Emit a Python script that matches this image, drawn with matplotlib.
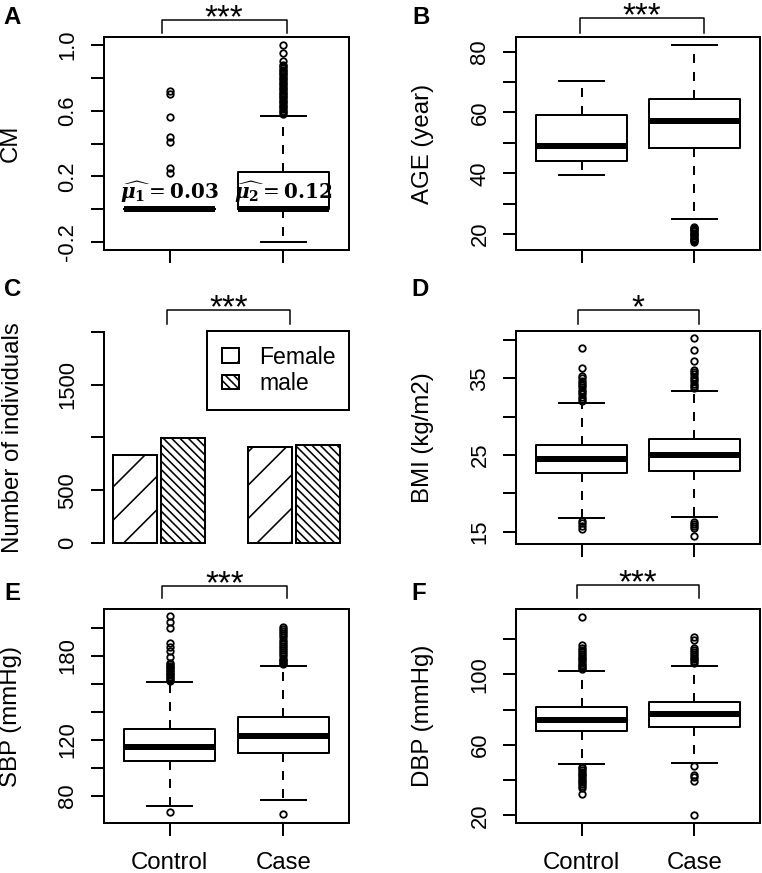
import matplotlib
matplotlib.use("Agg")
import matplotlib.pyplot as plt
from matplotlib.patches import Patch
from matplotlib.transforms import Affine2D, blended_transform_factory

W, H, DPI = 762, 873, 200
PT = 72 / DPI  # points per output pixel

plt.rcParams["font.family"] = ["Liberation Sans", "DejaVu Sans"]
plt.rcParams["mathtext.fontset"] = "dejavuserif"
plt.rcParams["hatch.linewidth"] = 1.6 * PT
plt.rcParams["lines.scale_dashes"] = False

GROUPS = ["Control", "Case"]

# box stats per group: (whisker low, q1, median, q3, whisker high)
CM_STATS = [(0.0, 0.0, 0.0, 0.0, 0.0), (-0.2, 0.0, 0.0, 0.224, 0.567)]
CM_FLIERS = [
    [0.72, 0.70, 0.56, 0.44, 0.41, 0.25, 0.22],
    [1.00, 0.95, 0.90, 0.88, 0.87, 0.86, 0.85, 0.84, 0.83, 0.82, 0.81, 0.80,
     0.79, 0.78, 0.77, 0.76, 0.75, 0.74, 0.73, 0.72, 0.71, 0.70, 0.69, 0.68,
     0.67, 0.66, 0.65, 0.64, 0.63, 0.62, 0.61, 0.60, 0.59, 0.58],
]
CM_MEANS = ["0.03", "0.12"]

AGE_STATS = [(39.3, 44.0, 49.1, 59.1, 70.3), (25.0, 48.2, 57.1, 64.3, 82.2)]
AGE_FLIERS = [
    [],
    [22.5, 22.1, 21.7, 21.3, 20.9, 20.5, 20.1, 19.7, 19.3, 18.9, 18.5, 18.1,
     17.7, 17.3],
]

SEX_FEMALE = [836, 912]
SEX_MALE = [997, 928]
SEX_LABELS = ["Female", "male"]

BMI_STATS = [(16.8, 22.6, 24.45, 26.3, 31.8), (16.9, 22.95, 25.05, 27.05, 33.4)]
BMI_FLIERS = [
    [39.0, 36.4, 35.3, 35.0, 34.7, 34.4, 34.1, 33.8, 33.5, 33.2, 32.9, 32.6,
     32.3, 32.1, 16.4, 16.1, 15.7, 15.4],
    [40.3, 38.7, 37.2, 36.1, 35.8, 35.5, 35.2, 34.9, 34.6, 34.3, 34.0, 33.7,
     16.3, 16.0, 15.7, 15.5, 14.5],
]

SBP_STATS = [(72.8, 104.9, 114.6, 127.5, 161.0), (77.0, 110.4, 122.9, 136.2, 172.8)]
SBP_FLIERS = [
    [208.2, 204.1, 200.0, 189.2, 186.0, 183.5, 178.8, 175.0, 174.0, 173.0,
     172.0, 171.0, 170.0, 169.0, 168.0, 167.0, 166.0, 165.0, 164.0, 163.0,
     162.3, 68.3],
    [200.6, 199.0, 197.5, 196.0, 194.5, 193.0, 191.5, 190.0, 188.5, 187.0,
     185.5, 184.0, 182.5, 181.0, 179.5, 178.0, 177.0, 176.0, 175.0, 174.2,
     66.9],
]

DBP_STATS = [(49.2, 68.1, 74.2, 81.7, 102.1), (49.9, 70.3, 77.5, 84.3, 104.9)]
DBP_FLIERS = [
    [132.6, 116.6, 114.7, 113.5, 112.5, 111.5, 110.5, 109.5, 108.5, 107.5,
     106.5, 105.5, 104.5, 103.5, 102.7, 47.7, 46.7, 45.7, 44.7, 43.7, 42.7,
     41.7, 40.7, 39.7, 38.7, 37.7, 36.5, 35.5, 32.2],
    [121.0, 119.5, 114.7, 113.5, 112.5, 111.5, 110.5, 109.5, 108.5, 107.3,
     106.6, 48.0, 42.9, 41.5, 39.5, 20.4],
]

# font sizes in output pixels
F_TICK, F_LAB, F_XT, F_LET, F_STAR, F_MU, F_LEG = 22, 24, 24, 24, 33, 20, 23

LW = 2 * PT

fig = plt.figure(figsize=(W / DPI, H / DPI), dpi=DPI)
PX = Affine2D().scale(1 / W, -1 / H).translate(0, 1) + fig.transFigure


def add_axes(x0, x1, y0, y1):
    return fig.add_axes([x0 / W, 1 - y1 / H, (x1 - x0) / W, (y1 - y0) / H])


def style_axis(ax):
    for s in ax.spines.values():
        s.set_linewidth(LW)
    ax.tick_params(direction="out", length=13.5 * PT, width=LW,
                   labelsize=F_TICK * PT, pad=12 * PT)


def set_yticks(ax, ticks, labels):
    ax.set_yticks(ticks)
    ax.set_yticklabels(labels, rotation=90, va="center")


def box_panel(ax, stats, fliers, ylim, ticks, labels, ylabel, bottom):
    bx = [dict(whislo=s[0], q1=s[1], med=s[2], q3=s[3], whishi=s[4], fliers=f)
          for s, f in zip(stats, fliers)]
    ax.bxp(bx, positions=[1, 2], widths=0.8, capwidths=0.4,
           boxprops=dict(lw=LW, color="black"),
           medianprops=dict(lw=6 * PT, color="black", solid_capstyle="butt"),
           whiskerprops=dict(lw=LW, color="black",
                             linestyle=(0, (9 * PT, 9 * PT))),
           capprops=dict(lw=LW, color="black"),
           flierprops=dict(marker="o", mfc="none", mec="black",
                           ms=6.5 * PT, mew=1.8 * PT))
    ax.set_xlim(0.42, 2.58)
    ax.set_ylim(*ylim)
    style_axis(ax)
    set_yticks(ax, ticks, labels)
    ax.set_xticks([1, 2])
    if bottom:
        ax.set_xticklabels(GROUPS, fontsize=F_XT * PT)
        ax.tick_params(axis="x", pad=15 * PT)
    else:
        ax.set_xticklabels(["", ""])
    ax.set_ylabel(ylabel, fontsize=F_LAB * PT, va="center")
    ax.yaxis.set_label_coords(-0.38, 0.5)


def bracket(ax, x0, x1, ytop, ytip, stars):
    tr = blended_transform_factory(ax.transData, PX)
    ax.plot([x0, x0, x1, x1], [ytip, ytop, ytop, ytip], color="black",
            lw=1.5 * PT, transform=tr, clip_on=False)
    ax.text((x0 + x1) / 2, ytop - 12 + 0.58 * F_STAR, stars, transform=tr,
            ha="center", va="baseline", fontsize=F_STAR * PT)


LEFT = (104, 349)
RIGHT = (516, 760)
ROWS = [(37, 250), (330.7, 544), (609, 823.3)]

# A: CM
axA = add_axes(*LEFT, *ROWS[0])
box_panel(axA, CM_STATS, CM_FLIERS, (-0.248, 1.048),
          [-0.2, 0.0, 0.2, 0.4, 0.6, 0.8, 1.0],
          ["-0.2", "", "0.2", "", "0.6", "", "1.0"], "CM", False)
for i, m in enumerate(CM_MEANS):
    axA.text(i + 1, 0.11,
             r"$\widehat{\boldsymbol{\mu}_{\mathbf{%d}}} = \mathbf{%s}$" % (i + 1, m),
             ha="center", va="center", fontsize=F_MU * PT)
bracket(axA, 0.93, 2.03, 20, 33, "***")

# B: AGE
axB = add_axes(*RIGHT, *ROWS[0])
box_panel(axB, AGE_STATS, AGE_FLIERS, (14.8, 84.8), [20, 30, 40, 50, 60, 70, 80],
          ["20", "", "40", "", "60", "", "80"], "AGE (year)", False)
bracket(axB, 0.99, 2.08, 18, 33, "***")

# C: sex counts
axC = add_axes(*LEFT, *ROWS[1])
bw, inner, outer = 1.0, 0.1, 1.0
starts = [outer + g * (2 * bw + inner + outer) for g in range(len(GROUPS))]
xf = [s + bw / 2 for s in starts]
xm = [s + bw + inner + bw / 2 for s in starts]
hatches = ["//", "\\" * 8]
axC.bar(xf, SEX_FEMALE, width=bw, facecolor="white", edgecolor="black",
        hatch=hatches[0], lw=LW)
axC.bar(xm, SEX_MALE, width=bw, facecolor="white", edgecolor="black",
        hatch=hatches[1], lw=LW)
axC.set_xlim(0.792, 6.408)
axC.set_ylim(-9.5, 2009.5)
style_axis(axC)
for k in ("top", "right", "bottom"):
    axC.spines[k].set_visible(False)
axC.spines["left"].set_bounds(0, 2000)
axC.set_xticks([])
set_yticks(axC, [0, 500, 1000, 1500, 2000], ["0", "500", "", "1500", ""])
axC.set_ylabel("Number of individuals", fontsize=F_LAB * PT, va="center")
axC.yaxis.set_label_coords(-0.37, 0.5)
handles = [Patch(facecolor="white", edgecolor="black", hatch=h, lw=LW)
           for h in hatches]
leg = axC.legend(handles, SEX_LABELS, loc="upper right",
                 bbox_to_anchor=(0.419, 0, 0.582, 1.0), mode="expand",
                 borderaxespad=0, fancybox=False, edgecolor="black",
                 framealpha=1, borderpad=0.65, handlelength=0.75,
                 handleheight=0.6, handletextpad=0.9, labelspacing=0.15,
                 fontsize=F_LEG * PT)
leg.get_frame().set_linewidth(LW)
bracket(axC, 2.23, 5.06, 310, 324, "***")

# D: BMI
axD = add_axes(*RIGHT, *ROWS[1])
box_panel(axD, BMI_STATS, BMI_FLIERS, (13.4, 41.2), [15, 20, 25, 30, 35, 40],
          ["15", "", "25", "", "35", ""], "BMI (kg/m2)", False)
bracket(axD, 0.965, 2.04, 310, 324, "*")

# E: SBP
axE = add_axes(*LEFT, *ROWS[2])
box_panel(axE, SBP_STATS, SBP_FLIERS, (60.5, 213.3),
          [80, 100, 120, 140, 160, 180, 200],
          ["80", "", "120", "", "", "180", ""], "SBP (mmHg)", True)
bracket(axE, 0.935, 2.03, 586, 598.3, "***")

# F: DBP
axF = add_axes(*RIGHT, *ROWS[2])
box_panel(axF, DBP_STATS, DBP_FLIERS, (15.5, 137.0), [20, 40, 60, 80, 100, 120],
          ["20", "", "60", "", "100", ""], "DBP (mmHg)", True)
bracket(axF, 0.956, 2.04, 585, 598, "***")

for letter, x, y in [("A", 12, 15), ("B", 421, 15), ("C", 13, 287.5),
                     ("D", 420, 287.5), ("E", 12, 591), ("F", 419, 591)]:
    fig.text(x, y + 0.36 * F_LET, letter, transform=PX, ha="center",
             va="baseline", fontsize=F_LET * PT, fontweight="bold")

fig.savefig("out.png", dpi=DPI)
